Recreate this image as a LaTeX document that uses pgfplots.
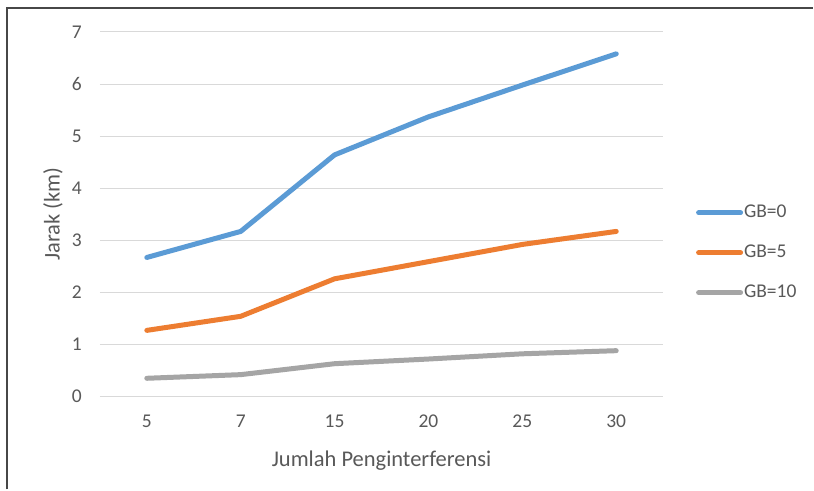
\documentclass[border=0pt]{standalone}
\usepackage{pgfplots}
\pgfplotsset{compat=1.18}
\usepackage{fontspec}
\setmainfont{Carlito}
\definecolor{cblue}{HTML}{5B9BD5}
\definecolor{corange}{HTML}{ED7D31}
\definecolor{cgray}{HTML}{A5A5A5}
\definecolor{ctext}{HTML}{595959}
\definecolor{cgrid}{HTML}{D9D9D9}
\begin{document}
\begin{tikzpicture}
\path[fill=white] (0,0) rectangle (814bp,490bp);
\draw[line width=2bp, color=black!72] (7bp,0) -- (7bp,482bp) -- (814bp,482bp);
\begin{axis}[
  at={(100bp,93bp)}, anchor=south west,
  scale only axis, width=564bp, height=365bp,
  xmin=-0.5, xmax=5.5, ymin=0, ymax=7,
  xtick={0,1,2,3,4,5}, xticklabels={5,7,15,20,25,30},
  ytick={0,1,2,3,4,5,6,7},
  ymajorgrids,
  major grid style={color=cgrid, line width=1bp},
  axis line style={draw=none},
  major tick length=0pt,
  /pgf/number format/assume math mode=true,
  tick label style={font=\fontsize{19.5bp}{23bp}\selectfont, color=ctext, inner sep=0pt},
  yticklabel style={anchor=east, xshift=-18bp},
  xticklabel style={anchor=north, yshift=-18bp},
  xlabel={Jumlah Penginterferensi},
  ylabel={Jarak (km)},
  label style={font=\fontsize{22.5bp}{27bp}\selectfont, color=ctext, inner sep=0pt},
  xlabel style={at={(axis description cs:0.5,0)}, anchor=base, yshift=-70bp},
  ylabel style={at={(axis description cs:-0.0833,0.5)}, anchor=center, rotate=0},
  clip=false,
  legend style={at={(axis description cs:1.0585,0.3945)}, anchor=west, draw=none, fill=none,
    inner sep=0pt, outer sep=0pt,
    font=\fontsize{19.5bp}{23bp}\selectfont, text=ctext,
    row sep=20bp,
    nodes={inner sep=1bp, text height=14bp, text depth=4bp}},
  legend cell align=left,
  legend image code/.code={\draw[#1, line width=5bp, line cap=round] (1bp,0bp) -- (43bp,0bp);},
  every axis plot/.append style={line width=5bp, line cap=round, line join=round},
]
\addplot[color=cblue] coordinates {(0,2.67) (1,3.17) (2,4.64) (3,5.37) (4,5.98) (5,6.58)};
\addlegendentry{GB=0}
\addplot[color=corange] coordinates {(0,1.27) (1,1.54) (2,2.26) (3,2.59) (4,2.92) (5,3.17)};
\addlegendentry{GB=5}
\addplot[color=cgray] coordinates {(0,0.35) (1,0.42) (2,0.63) (3,0.72) (4,0.82) (5,0.88)};
\addlegendentry{GB=10}
\end{axis}
\end{tikzpicture}
\end{document}
